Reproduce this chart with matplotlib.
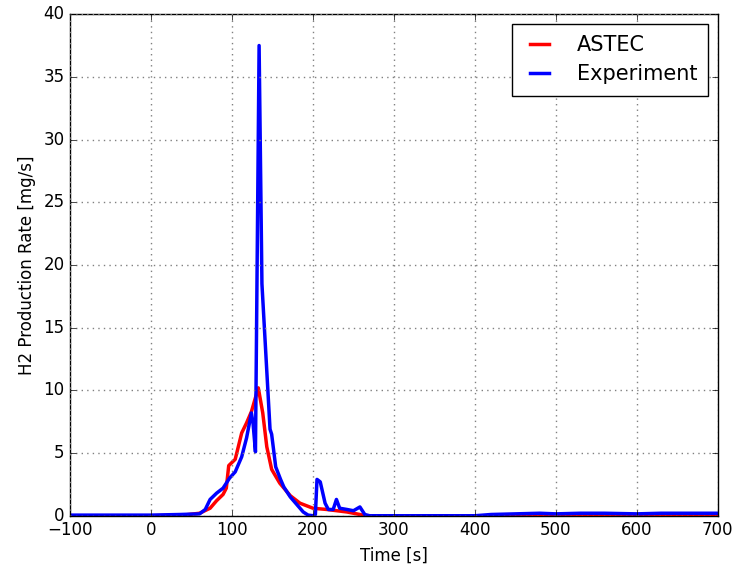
import matplotlib
matplotlib.use("Agg")
import matplotlib.pyplot as plt

plt.style.use('classic')

# ASTEC simulation
astec_t = [-100, 0, 40, 60, 73, 81, 89, 93, 96, 104, 112, 118, 124, 132.5,
           138, 143, 149, 159, 172, 184, 200, 217, 242, 258, 265, 700]
astec_v = [0.0, 0.0, 0.05, 0.2, 0.6, 1.2, 1.7, 2.2, 4.0, 4.5, 6.6, 7.4, 8.3, 10.2,
           8.2, 5.5, 3.7, 2.6, 1.6, 1.0, 0.6, 0.5, 0.3, 0.1, 0.0, 0.0]

# Experiment
exp_t = [-100, 0, 36, 60, 67, 73, 81, 89, 97, 104, 112, 118, 124, 126, 129,
         133.5, 137, 147, 149, 154, 160, 164, 172, 180, 188, 194, 200, 203, 205,
         209, 215, 219, 225, 229, 233, 242, 250, 258, 264, 270, 400, 420, 450,
         480, 500, 530, 560, 600, 630, 660, 700]
exp_v = [0.05, 0.05, 0.1, 0.15, 0.5, 1.3, 1.8, 2.2, 3.0, 3.5, 4.7, 6.2, 8.2, 7.4, 5.1,
         37.5, 18.5, 6.9, 6.5, 3.9, 2.9, 2.3, 1.5, 0.9, 0.3, 0.05, 0.0, 0.1, 2.9,
         2.7, 1.0, 0.5, 0.5, 1.3, 0.6, 0.5, 0.4, 0.7, 0.1, 0.0, 0.0, 0.1, 0.15,
         0.2, 0.15, 0.2, 0.2, 0.15, 0.2, 0.2, 0.2]

fig = plt.figure(figsize=(7.37, 5.68), dpi=100, facecolor='white')
ax = fig.add_axes([0.095, 0.092, 0.879, 0.883])
ax.plot(astec_t, astec_v, color='red', lw=2.5, label='ASTEC')
ax.plot(exp_t, exp_v, color='blue', lw=2.5, label='Experiment')
ax.set_xlim(-100, 700)
ax.set_ylim(0, 40)
ax.set_xticks(range(-100, 701, 100))
ax.set_yticks(range(0, 41, 5))
ax.grid(True, color='0.5', linestyle=':', linewidth=1)
ax.set_xlabel('Time [s]', fontsize=12)
ax.set_ylabel('H2 Production Rate [mg/s]', fontsize=12)
ax.tick_params(labelsize=12)
leg = ax.legend(loc='upper right', fontsize=15, fancybox=False, framealpha=1,
                handlelength=1.55, handletextpad=1.0, borderpad=0.55,
                labelspacing=0.45, borderaxespad=0.45)
fig.savefig('out.png', dpi=100, facecolor='white')
